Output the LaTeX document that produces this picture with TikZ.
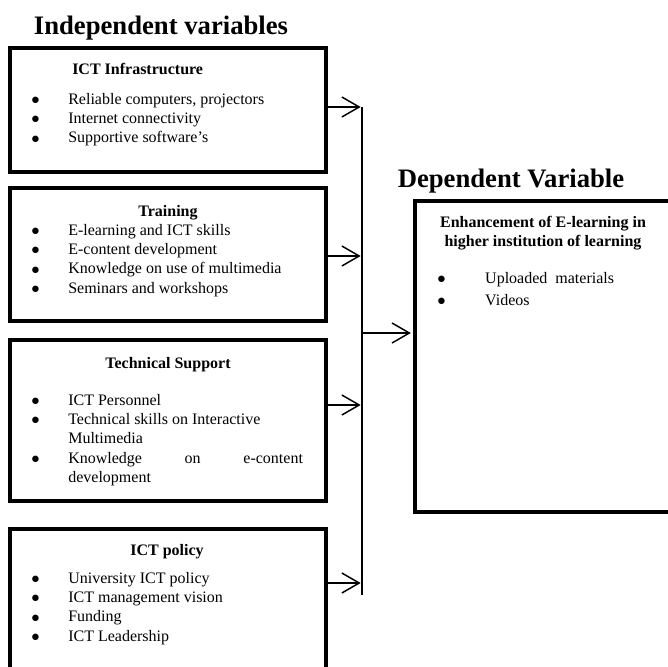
\documentclass[tikz,border=0pt]{standalone}
\usepackage{fontspec}
\setmainfont{Liberation Serif}
\newfontfamily\symfont{DejaVu Sans}
\usepackage{tikz}
\usetikzlibrary{positioning}
\usetikzlibrary{calc}
\usetikzlibrary{arrows.meta}

\newcommand{\bul}{\raisebox{1.3pt}{\symfont\fontsize{6.3}{6.3}\selectfont ●}}

\begin{document}
\begin{tikzpicture} [
    x=0.75pt, y=-0.75pt,            % pixel grid, y runs downwards
    ]
% -------------------------------------------------
\tikzset{
  base/.style={inner sep=0pt, font=\fontsize{12}{14.6}\selectfont},
  varbox/.style={draw, rectangle, line width=3pt, minimum width=237pt},
  vartitle/.style={base, font=\fontsize{20}{24}\selectfont\bfseries, anchor=base},
  boxtitle/.style={base, font=\fontsize{12}{14.6}\selectfont\bfseries, anchor=base},
  items/.style={base, anchor=base west},
  line/.style={draw, line width=1.1pt},
  arr/.style={line, -{Straight Barb[length=13pt, width=15pt]}, shorten >=1pt}
}

    \useasboundingbox (0,0) rectangle (668,667);
    \clip (0,0) rectangle (668,667);

    \node [vartitle] (indep) at (161,35) {Independent variables};
    \node [vartitle] (depn) at (511,187) {Dependent Variable};

    \node [varbox, minimum height=93pt] (ict) at (168,110) {};          % box 1
    \node [varbox, minimum height=99.75pt] (trn) at (168,254.5) {};     % box 2
    \node [varbox, minimum height=120.75pt] (tec) at (168,420.5) {};    % box 3
    \node [varbox, minimum height=113.25pt] (pol) at (168,604.5) {};    % box 4, runs off the page
    \node [varbox, minimum width=192.4pt, minimum height=233.25pt] (dep) at (543.75,356.5) {};

    \node [boxtitle, anchor=base west] (ictT) at (72,75) {ICT Infrastructure};
    \node [items] (ictL) at (31.5,104) {\begin{tabular}[t]{@{}p{27.4pt}@{}l@{}}
      \bul & Reliable computers, projectors\\
      \bul & Internet connectivity\\
      \bul & Supportive software’s
    \end{tabular}};

    \node [boxtitle] (trnT) at (168,216) {Training};
    \node [items] (trnL) at (31.5,235) {\begin{tabular}[t]{@{}p{27.4pt}@{}l@{}}
      \bul & E-learning and ICT skills\\
      \bul & E-content development\\
      \bul & Knowledge on use of multimedia\\
      \bul & Seminars and workshops
    \end{tabular}};

    \node [boxtitle] (tecT) at (168,368) {Technical Support};
    \node [items] (tecL) at (31.5,405) {\begin{tabular}[t]{@{}p{27.4pt}@{}l@{}}
      \bul & ICT Personnel\\
      \bul & Technical skills on Interactive\\
           & Multimedia\\
      \bul & \makebox[176pt][s]{Knowledge on e-content}\\
           & development
    \end{tabular}};

    \node [boxtitle] (polT) at (167,555) {ICT policy};
    \node [items] (polL) at (31.5,583) {\begin{tabular}[t]{@{}p{27.4pt}@{}l@{}}
      \bul & University ICT policy\\
      \bul & ICT management vision\\
      \bul & Funding\\
      \bul & ICT Leadership
    \end{tabular}};

    \node [boxtitle] (depT) at (543,227) {\begin{tabular}[t]{@{}c@{}}
      Enhancement of E-learning in\\
      higher institution of learning
    \end{tabular}};
    \node [items] (depL) at (437.5,283) {\begin{tabular}[t]{@{}p{35.6pt}@{}l@{}}
      \bul & Uploaded\ \ materials\\[2.3pt]
      \bul & Videos
    \end{tabular}};

    \coordinate (b1) at (362,107);
    \coordinate (b2) at (362,256);
    \coordinate (b3) at (362,405);
    \coordinate (b4) at (362,583);
    \coordinate (jn) at (362,333);
    \coordinate (bend) at (362,595);

    \path [line] (b1) -- (bend);
    \path [arr] (ict.east |- b1) -- (b1);
    \path [arr] (trn.east |- b2) -- (b2);
    \path [arr] (tec.east |- b3) -- (b3);
    \path [arr] (pol.east |- b4) -- (b4);
    \path [arr, shorten >=2pt] (jn) -- (jn -| dep.west);

\end{tikzpicture}
\end{document}
